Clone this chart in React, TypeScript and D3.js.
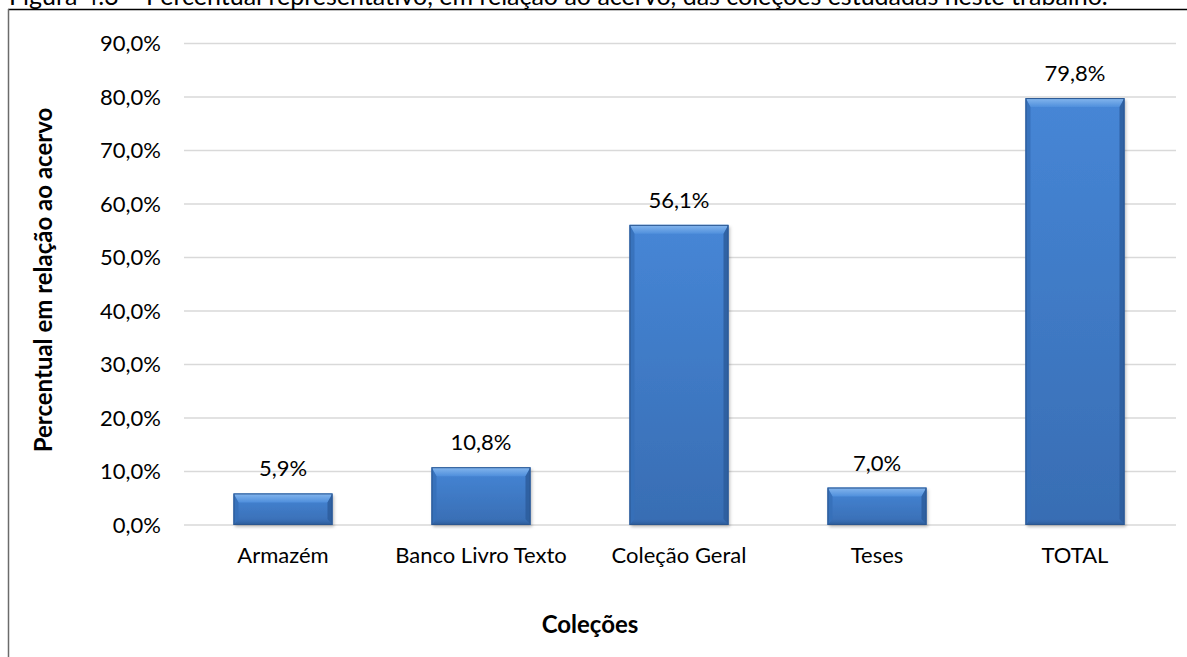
import React from "react";
import * as d3 from "d3";

const categories = ["Armazém", "Banco Livro Texto", "Coleção Geral", "Teses", "TOTAL"];
const values = [5.9, 10.8, 56.1, 7.0, 79.8];
const yTicks = [0, 10, 20, 30, 40, 50, 60, 70, 80, 90];
const titleText = "Figura 4.3 – Percentual representativo, em relação ao acervo, das coleções estudadas neste trabalho.";
const yTitle = "Percentual em relação ao acervo";
const xTitle = "Coleções";

const W = 1187;
const H = 657;
const FONT = "Lato, 'Open Sans', sans-serif";
const fmt = (v: number) => v.toFixed(1).replace(".", ",") + "%";

export default function App() {
  const x = d3.scaleBand<string>().domain(categories).range([184, 1174]).paddingInner(0.5).paddingOuter(0.25);
  const y = d3.scaleLinear().domain([0, 90]).range([525, 43.5]);
  const bw = x.bandwidth();
  const fs = 22;
  const tfs = 24;

  const bars = categories.map((c, i) => {
    const x0 = x(c)!;
    const x1 = x0 + bw;
    const y0 = y(values[i]);
    const y1 = y(0);
    const h = y1 - y0;
    const bt = Math.min(9, h / 3);
    const bb = Math.min(6, h / 4);
    const bs = 5;
    return (
      <g key={c}>
        <g filter="url(#shadow)">
          <rect x={x0} y={y0} width={bw} height={h} fill="url(#face)" />
        </g>
        <polygon points={`${x0},${y0} ${x1},${y0} ${x1 - bs},${y0 + bt} ${x0 + bs},${y0 + bt}`} fill="url(#topBevel)" />
        <polygon points={`${x0},${y1} ${x1},${y1} ${x1 - bs},${y1 - bb} ${x0 + bs},${y1 - bb}`} fill="url(#botBevel)" />
        <polygon points={`${x0},${y0} ${x0 + bs},${y0 + bt} ${x0 + bs},${y1 - bb} ${x0},${y1}`} fill="#3670b8" opacity={0.85} />
        <polygon points={`${x1},${y0} ${x1 - bs},${y0 + bt} ${x1 - bs},${y1 - bb} ${x1},${y1}`} fill="#2d5d9c" opacity={0.85} />
        <rect x={x0 + 0.5} y={y0 + 0.5} width={bw - 1} height={h - 1} fill="none" stroke="#2a5690" strokeWidth={1} />
        <text x={x0 + bw / 2} y={y0 - 17} textAnchor="middle" fontSize={fs} fontFamily={FONT} fill="#000">
          {fmt(values[i])}
        </text>
      </g>
    );
  });

  return (
    <svg width={W} height={H} style={{ position: "absolute", left: 0, top: 0, background: "#fff" }}>
      <defs>
        <linearGradient id="face" x1="0" y1="0" x2="0" y2="1">
          <stop offset="0" stopColor="#4686d6" />
          <stop offset="1" stopColor="#386db3" />
        </linearGradient>
        <linearGradient id="topBevel" x1="0" y1="0" x2="0" y2="1">
          <stop offset="0" stopColor="#86b7ee" />
          <stop offset="1" stopColor="#4f8fdc" />
        </linearGradient>
        <linearGradient id="botBevel" x1="0" y1="0" x2="0" y2="1">
          <stop offset="0" stopColor="#386db3" stopOpacity="0.2" />
          <stop offset="1" stopColor="#2a5893" />
        </linearGradient>
        <filter id="shadow" x="-10%" y="-10%" width="130%" height="130%">
          <feDropShadow dx="1.5" dy="2" stdDeviation="1.5" floodColor="#000" floodOpacity="0.25" />
        </filter>
      </defs>

      <text x={9} y={5} fontSize={25} fontFamily={FONT} fill="#000">{titleText}</text>

      <line x1={8} y1={9.5} x2={W} y2={9.5} stroke="#000" strokeWidth={1.5} />
      <line x1={8.5} y1={9} x2={8.5} y2={H} stroke="#6b6b6b" strokeWidth={1.5} />

      {yTicks.map((t) => (
        <g key={t}>
          <line x1={184} x2={1176} y1={y(t)} y2={y(t)} stroke="#d9d9d9" strokeWidth={1.5} />
          <text x={161} y={y(t)} dy="0.36em" textAnchor="end" fontSize={fs} fontFamily={FONT} fill="#000">
            {fmt(t)}
          </text>
        </g>
      ))}

      {bars}

      {categories.map((c) => (
        <text key={c} x={x(c)! + bw / 2} y={563} textAnchor="middle" fontSize={fs} fontFamily={FONT} fill="#000">
          {c}
        </text>
      ))}

      <text transform={`translate(52,280) rotate(-90)`} textAnchor="middle" fontSize={tfs} fontWeight="bold" fontFamily={FONT} fill="#000">
        {yTitle}
      </text>
      <text x={590} y={633} textAnchor="middle" fontSize={tfs} fontWeight="bold" fontFamily={FONT} fill="#000">
        {xTitle}
      </text>
    </svg>
  );
}
